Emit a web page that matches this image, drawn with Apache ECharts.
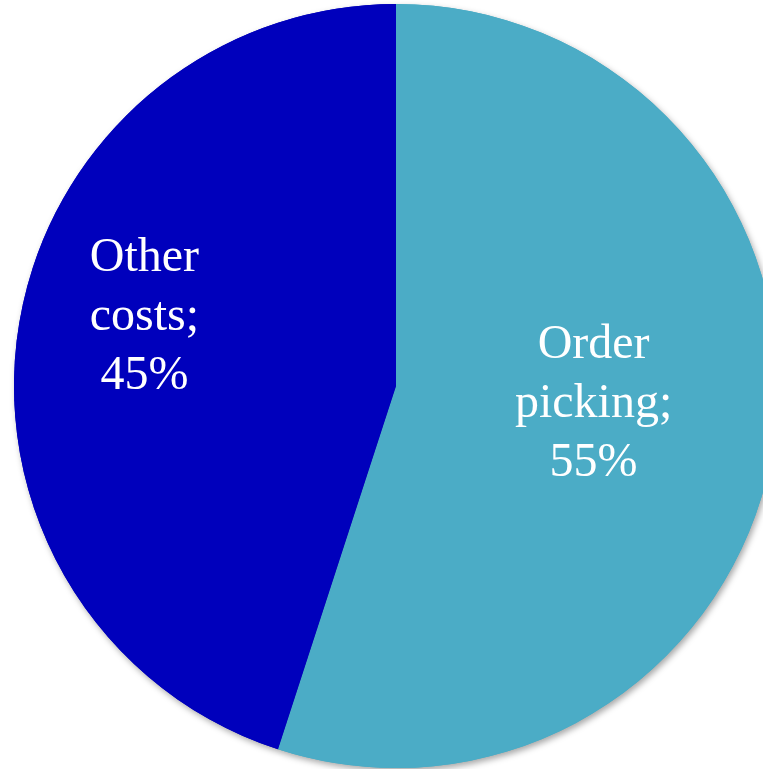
<!DOCTYPE html>
<html>
<head>
<meta charset="utf-8">
<script src="https://cdn.jsdelivr.net/npm/echarts@6/dist/echarts.min.js"></script>
<style>
  html, body { margin: 0; padding: 0; background: #fff; }
  #chart { width: 763px; height: 769px; }
</style>
</head>
<body>
<div id="chart"></div>
<script>
// slice data, clockwise from 12 o'clock
const categories = ['Order picking', 'Other costs'];
const shares = [55, 45];
const sliceColors = ['#4BACC6', '#0000BC'];
// nudge labels to where the original puts them
const labelOffsets = [[6, -12], [-60, -38]];

const chart = echarts.init(document.getElementById('chart'));

const pieData = categories.map((name, i) => ({
  name: name,
  value: shares[i],
  itemStyle: { color: sliceColors[i] }
}));

const base = {
  type: 'pie',
  center: [396, 386],
  radius: 382,
  startAngle: 90,
  clockwise: true,
  labelLine: { show: false },
  emphasis: { disabled: true },
  silent: true
};

const option = {
  animation: false,
  series: [
    // bottom copy only casts the soft drop shadow
    Object.assign({}, base, {
      data: pieData,
      itemStyle: {
        borderWidth: 0,
        shadowBlur: 6,
        shadowOffsetX: 2,
        shadowOffsetY: 3,
        shadowColor: 'rgba(0, 0, 0, 0.35)'
      },
      label: { show: false }
    }),
    Object.assign({}, base, {
      data: pieData.map((d, i) => Object.assign({}, d, {
        label: { offset: labelOffsets[i] }
      })),
      itemStyle: { borderWidth: 0 },
      label: {
        show: true,
        position: 'inside',
        color: '#fff',
        fontFamily: '"Liberation Serif", serif',
        fontSize: 48,
        lineHeight: 59,
        align: 'center',
        formatter: function (p) {
          const words = p.name.split(' ');
          return words[0] + '\n' + words[1] + ';\n' + p.value + '%';
        }
      }
    })
  ]
};

chart.setOption(option);
</script>
</body>
</html>
